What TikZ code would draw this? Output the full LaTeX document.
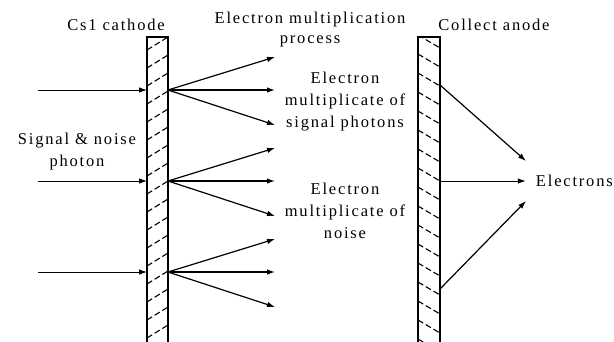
\documentclass[tikz,border=0pt]{standalone}
\usepackage{fontspec}
\setmainfont{Liberation Serif}[LetterSpace=11]
\usetikzlibrary{arrows.meta}
\tikzset{
  plate/.style={draw,line width=1.3pt},
  hatch/.style={line width=1.1pt,dash pattern=on 6pt off 3pt},
  ray/.style={-{Latex[length=8pt,width=5.5pt]},line width=1.2pt},
  inray/.style={-{Latex[length=8pt,width=5.5pt]},line width=0.9pt},
  lbl/.style={font=\fontsize{16.5}{22}\selectfont,align=center,inner sep=0pt},
}

\begin{document}
\begin{tikzpicture}[x=1pt,y=-1pt]
    \useasboundingbox (0,0) rectangle (614,341);

    % cathode plate with hatching
    \begin{scope}
      \clip (147,37) rectangle (168,345);
      \foreach \y in {50,68,...,360}{
        \draw[hatch] (147,\y) -- (168,\y-13);
      }
    \end{scope}
    \draw[plate] (147,345) -- (147,37) -- (168,37) -- (168,345);

    % anode plate with hatching
    \begin{scope}
      \clip (418,37) rectangle (440,345);
      \foreach \y in {35,54,...,350}{
        \draw[hatch] (418,\y) -- (440,\y+13);
      }
    \end{scope}
    \draw[plate] (418,345) -- (418,37) -- (440,37) -- (440,345);

    % photons in, electrons out of the cathode
    \foreach \i/\y in {1/90,2/181,3/272}{
      \coordinate (in\i) at (38,\y);
      \coordinate (hit\i) at (147,\y);
      \coordinate (emit\i) at (168,\y);
      \coordinate (up\i) at (275,\y-33);
      \coordinate (mid\i) at (275,\y);
      \coordinate (dn\i) at (275,\y+35);
      \draw[inray] (in\i) -- (hit\i);
      \draw[ray] (emit\i) -- (up\i);
      \draw[ray] (emit\i) -- (mid\i);
      \draw[ray] (emit\i) -- (dn\i);
    }

    % electrons collected at the anode
    \coordinate (a1) at (440,85);
    \coordinate (a2) at (440,181);
    \coordinate (a3) at (440,289);
    \coordinate (o1) at (526,161);
    \coordinate (o3) at (526,201);
    \node[lbl,anchor=east] (elec) at (613,181) {Electrons};
    \draw[inray,shorten >=10pt] (a2) -- (elec.west);
    \draw[ray] (a1) -- (o1);
    \draw[ray] (a3) -- (o3);

    % labels
    \node[lbl] (cathlbl) at (116,25) {Cs1 cathode};
    \node[lbl] (anodelbl) at (494,25) {Collect anode};
    \node[lbl,font=\fontsize{16.5}{20}\selectfont] (proc) at (310,30)
         {Electron multiplication\\process};
    \node[lbl] (sig) at (345,102) {Electron\\multiplicate of\\signal photons};
    \node[lbl] (noise) at (345,211) {Electron\\multiplicate of\\noise};
    \node[lbl] (photon) at (77,152) {Signal \& noise\\photon};
  \end{tikzpicture}
\end{document}
